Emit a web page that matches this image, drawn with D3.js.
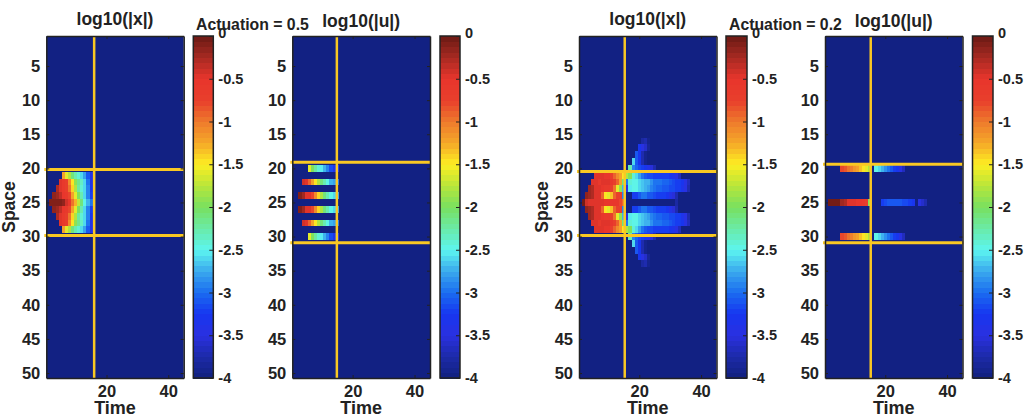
<!DOCTYPE html>
<html>
<head>
<meta charset="utf-8">
<script src="https://cdn.jsdelivr.net/npm/d3@7"></script>
<style>
  html, body { margin: 0; background: #fff; }
  text { font-family: "Liberation Sans", Arial, sans-serif; font-weight: bold; fill: #222; }
</style>
</head>
<body>
<svg id="chart" width="1024" height="420"></svg>
<script>
// each run: [row, first column, log10 values...]
const xHigh = [
  [21, 6, -1.2, -1.6, -1.8, -2.1, -2.3, -2.4, -2.6, -2.8, -3.1, -3.4],
  [22, 5, -0.45, -0.6, -0.7, -1.1, -1.5, -1.9, -2.15, -2.35, -2.6, -3, -3.4],
  [23, 4, -0.3, -0.45, -0.6, -0.7, -1.0, -1.4, -1.8, -2.2, -2.4, -2.6, -2.9, -3.3],
  [24, 3, -0.15, -0.2, -0.35, -0.55, -0.6, -0.8, -1.2, -1.6, -2.0, -2.3, -2.6, -2.9, -3.2],
  [25, 2, -0.1, -0.1, -0.1, -0.12, -0.15, -0.4, -0.55, -1.0, -1.3, -1.7, -2.1, -2.5, -2.7, -3.0],
  [26, 3, -0.15, -0.2, -0.35, -0.55, -0.6, -0.8, -1.2, -1.6, -2.0, -2.3, -2.6, -2.9, -3.2],
  [27, 4, -0.3, -0.45, -0.6, -0.7, -1.0, -1.4, -1.8, -2.2, -2.4, -2.6, -2.9, -3.3],
  [28, 5, -0.45, -0.6, -0.7, -1.1, -1.5, -1.9, -2.15, -2.35, -2.6, -3, -3.4],
  [29, 6, -1.2, -1.6, -1.8, -2.1, -2.3, -2.4, -2.6, -2.8, -3.1, -3.4],
];
const uHigh = [
  [20, 6, -1.6, -2.0, -2.2, -2.4, -2.55, -2.7, -2.9, -3.15, -3.35, -3.4],
  [22, 4, -0.4, -0.5, -0.9, -1.2, -1.5, -1.8, -2.1, -2.3, -2.5, -2.7, -2.8, -3.0],
  [24, 3, -0.1, -0.2, -0.45, -0.5, -0.8, -1.1, -1.4, -1.8, -2.1, -2.3, -2.45, -2.6, -2.8],
  [26, 3, -0.1, -0.2, -0.45, -0.5, -0.8, -1.1, -1.4, -1.8, -2.1, -2.3, -2.45, -2.6, -2.8],
  [28, 4, -0.4, -0.5, -0.9, -1.2, -1.5, -1.8, -2.1, -2.3, -2.5, -2.7, -2.8, -3.0],
  [30, 6, -1.6, -2.0, -2.2, -2.4, -2.55, -2.7, -2.9, -3.15, -3.35, -3.4],
];
const xLow = [
  [16, 21, -3.8, -3.7, -3.9],
  [17, 20, -3.3, -3.5, -3.6, -3.85],
  [18, 19, -3.1, -3.3, -3.7, -3.9],
  [19, 18, -2.6, -3.1, -3.3, -3.7, -3.9],
  [20, 17, -2.3, -2.9, -3.05, -3.15, -3.25, -3.3, -3.4, -3.55, -3.7],
  [21, 6, -0.5, -0.5, -0.5, -0.55, -0.55, -0.75, -0.9, -1.1, -1.25, -1.5, -1.8, -2.0, -2.4, -2.6, -2.8, -3.0, -3.1, -3.15, -3.15, -3.2, -3.2, -3.2, -3.25, -3.25, -3.3, -3.35, -3.45, -3.65],
  [22, 5, -0.45, -0.45, -0.6, -0.45, -0.5, -0.5, -0.55, -0.75, -0.9, -1.2, -2.1, -3.0, -2.4, -2.45, -2.5, -2.6, -2.65, -2.7, -2.75, -2.85, -2.95, -3.0, -3.0, -3.05, -3.05, -3.1, -3.15, -3.2, -3.25, -3.3, -3.45, -3.65],
  [23, 4, -0.25, -0.3, -0.45, -0.5, -0.55, -0.6, -0.6, -0.7, -1.0, -1.6, -1.9, -2.7, -3.5, -2.55, -2.45, -2.5, -2.6, -2.65, -2.7, -2.8, -2.9, -3.0, -3.05, -3.05, -3.1, -3.1, -3.15, -3.15, -3.2, -3.25, -3.35, -3.5, -3.7],
  [24, 3, -0.15, -0.2, -0.3, -0.45, -0.45, -0.9, -1.45, -1.6, -1.35, -0.9, -0.7, -0.7, -2.9],
  [24, 18, -3.2, -3.2, -3.1, -3.0, -3.0, -3.1, -3.1, -3.15, -3.2, -3.2, -3.25, -3.3, -3.4, -3.55, -3.7],
  [25, 2, -0.05, -0.4, -0.45, -0.5, -0.5, -0.5, -0.5, -0.55, -0.55, -0.55, -0.55, -0.55, -0.8, -0.9],
  [25, 32, -3.8],
  [26, 3, -0.15, -0.2, -0.3, -0.45, -0.45, -0.9, -1.45, -1.6, -1.35, -0.9, -0.7, -0.7, -2.9],
  [26, 18, -3.2, -3.2, -3.1, -3.0, -3.0, -3.1, -3.1, -3.15, -3.2, -3.2, -3.25, -3.3, -3.4, -3.55, -3.7],
  [27, 4, -0.25, -0.3, -0.45, -0.5, -0.55, -0.6, -0.6, -0.7, -1.0, -1.6, -1.9, -2.7, -3.5, -2.55, -2.45, -2.5, -2.6, -2.65, -2.7, -2.8, -2.9, -3.0, -3.05, -3.05, -3.1, -3.1, -3.15, -3.15, -3.2, -3.25, -3.35, -3.5, -3.7],
  [28, 5, -0.45, -0.45, -0.6, -0.45, -0.5, -0.5, -0.55, -0.75, -0.9, -1.2, -2.1, -3.0, -2.4, -2.45, -2.5, -2.6, -2.65, -2.7, -2.75, -2.85, -2.95, -3.0, -3.0, -3.05, -3.05, -3.1, -3.15, -3.2, -3.25, -3.3, -3.45, -3.65],
  [29, 6, -0.5, -0.5, -0.5, -0.55, -0.55, -0.75, -0.9, -1.1, -1.25, -1.5, -1.8, -2.0, -2.4, -2.6, -2.8, -3.0, -3.1, -3.15, -3.15, -3.2, -3.2, -3.2, -3.25, -3.25, -3.3, -3.35, -3.45, -3.65],
  [30, 17, -2.3, -2.9, -3.05, -3.15, -3.25, -3.3, -3.4, -3.55, -3.7],
  [31, 18, -2.6, -3.1, -3.3, -3.7, -3.9],
  [32, 19, -3.1, -3.3, -3.7, -3.9],
  [33, 20, -3.3, -3.5, -3.6, -3.85],
  [34, 21, -3.8, -3.7, -3.9],
];
const uLow = [
  [20, 6, -0.8, -0.85, -0.95, -1.05, -1.15, -1.25, -1.35, -1.45, -1.6, -1.8],
  [20, 17, -2.5, -2.6, -2.75, -2.85, -3, -3.1, -3.2, -3.3, -3.45, -3.65],
  [25, 2, -0.05, -0.05, -0.05, -0.05, -0.2, -0.3, -0.5, -0.5, -0.5, -0.55, -0.55, -0.6, -0.7, -2.0],
  [25, 19, -3.2, -3.15, -3.1, -3.1, -3.1, -3.1, -3.1, -3.15, -3.15, -3.2, -3.3],
  [25, 31, -3.5, -3.6, -3.7],
  [30, 6, -0.8, -0.85, -0.95, -1.05, -1.15, -1.25, -1.35, -1.45, -1.6, -1.8],
  [30, 17, -2.5, -2.6, -2.75, -2.85, -3, -3.1, -3.2, -3.3, -3.45, -3.65],
];

const timeTicks = [20, 40];
const spaceTicks = [5, 10, 15, 20, 25, 30, 35, 40, 45, 50];
const colorTicks = [0, -0.5, -1, -1.5, -2, -2.5, -3, -3.5, -4];

const stopValues = [-4, -3.75, -3.5, -3.25, -3, -2.75, -2.5, -2, -1.75, -1.5, -1.25, -1, -0.75, -0.5, -0.25, 0];
const stopColors = ["#10207e", "#1c2aa8", "#2a30e0", "#1636f0", "#1a6cf0", "#3aa8ee", "#5cf5f0", "#78e060", "#b8e63a", "#fdee22", "#f5a828", "#ee7a2c", "#e83f2c", "#e8352c", "#a82a22", "#6b1a14"];

const svg = d3.select("#chart");
const plotTop = 36, plotBottom = 378;
const frame = "#222";

const ramp = d3.scaleLinear().domain(stopValues).range(stopColors);
const levels = 64;
const level = (v) => Math.min(levels - 1, Math.floor((v + 4) / 4 * levels));
const color = (v) => ramp(-4 + (level(v) + 0.5) / levels * 4);

function panel(left, right, runs, vLine, hLines, title, titleY, showSpace) {
  const x = d3.scaleLinear().domain([0.5, 45]).range([left, right]);
  const y = d3.scaleLinear().domain([0.6, 50.73]).range([plotTop, plotBottom]);
  const g = svg.append("g");

  g.append("rect")
    .attr("x", left).attr("y", plotTop)
    .attr("width", right - left).attr("height", plotBottom - plotTop)
    .attr("fill", color(-4));

  const cells = runs.flatMap(([row, col, ...vals]) =>
    vals.map((v, i) => ({ row, col: col + i, v })));
  g.append("g").attr("shape-rendering", "crispEdges")
    .selectAll("rect").data(cells).join("rect")
    .attr("x", (d) => x(d.col - 0.5))
    .attr("y", (d) => y(d.row - 0.5))
    .attr("width", x(1) - x(0))
    .attr("height", y(1) - y(0))
    .attr("fill", (d) => color(d.v));

  // threshold lines
  g.append("line")
    .attr("x1", x(vLine)).attr("x2", x(vLine))
    .attr("y1", plotTop).attr("y2", plotBottom)
    .attr("stroke", "#f9c823").attr("stroke-width", 2.5);
  g.selectAll(".hline").data(hLines).join("line")
    .attr("class", "hline")
    .attr("x1", left - 2).attr("x2", right + 1)
    .attr("y1", (d) => y(d)).attr("y2", (d) => y(d))
    .attr("stroke", "#f9c823").attr("stroke-width", 3);

  const xAxis = g.append("g").attr("transform", `translate(0,${plotBottom})`)
    .call(d3.axisBottom(x).tickValues(timeTicks).tickSizeInner(-3).tickSizeOuter(0).tickPadding(7));
  const yAxis = g.append("g").attr("transform", `translate(${left},0)`)
    .call(d3.axisLeft(y).tickValues(spaceTicks).tickSizeInner(-3).tickSizeOuter(0).tickPadding(6));
  const xTop = g.append("g").attr("transform", `translate(0,${plotTop})`)
    .call(d3.axisTop(x).tickValues(timeTicks).tickSizeInner(-3).tickSizeOuter(0).tickFormat(""));
  const yRight = g.append("g").attr("transform", `translate(${right},0)`)
    .call(d3.axisRight(y).tickValues(spaceTicks).tickSizeInner(-3).tickSizeOuter(0).tickFormat(""));
  [xAxis, yAxis, xTop, yRight].forEach((a) => {
    a.selectAll("line").attr("stroke", frame);
    a.select(".domain").attr("stroke", frame).attr("stroke-width", 1.5);
    a.selectAll("text").attr("font-size", 16.5).attr("font-family", null);
  });

  const mid = (left + right) / 2;
  g.append("text").attr("x", mid).attr("y", titleY)
    .attr("text-anchor", "middle").attr("font-size", 17.5).text(title);
  g.append("text").attr("x", mid).attr("y", 414)
    .attr("text-anchor", "middle").attr("font-size", 18).text("Time");
  if (showSpace) {
    g.append("text")
      .attr("transform", `translate(${left - 31},207) rotate(-90)`)
      .attr("text-anchor", "middle").attr("font-size", 17.5).text("Space");
  }
}

function colorbar(left, right) {
  const scale = d3.scaleLinear().domain([-4, 0]).range([plotBottom, plotTop]);
  const g = svg.append("g");
  g.append("g").attr("shape-rendering", "crispEdges")
    .selectAll("rect").data(d3.range(levels)).join("rect")
    .attr("x", left)
    .attr("y", (d) => scale(-4 + (d + 1) / levels * 4))
    .attr("width", right - left)
    .attr("height", (plotBottom - plotTop) / levels + 0.5)
    .attr("fill", (d) => ramp(-4 + (d + 0.5) / levels * 4));
  g.append("rect")
    .attr("x", left).attr("y", plotTop)
    .attr("width", right - left).attr("height", plotBottom - plotTop)
    .attr("fill", "none").attr("stroke", frame).attr("stroke-width", 1.5);
  const axis = g.append("g").attr("transform", `translate(${right},0)`)
    .call(d3.axisRight(scale).tickValues(colorTicks).tickFormat(String)
      .tickSizeInner(-4).tickSizeOuter(0).tickPadding(5));
  axis.select(".domain").remove();
  axis.selectAll("line").attr("stroke", frame);
  axis.selectAll("text").attr("font-size", 14.5).attr("font-family", null);
  axis.selectAll(".tick").filter((d) => d === 0).select("text").attr("dy", "0.1em");
}

panel(46.3, 183.7, xHigh, 16, [20.15, 29.85], "log10(|x|)", 25, true);
colorbar(193.3, 213.3);
panel(292.3, 430, uHigh, 14.9, [19.1, 30.9], "log10(|u|)", 27, false);
colorbar(440, 460);
panel(579, 716.5, xLow, 15.3, [20.45, 29.85], "log10(|x|)", 25, true);
colorbar(726, 747);
panel(825, 962.5, uLow, 15.3, [19.4, 30.9], "log10(|u|)", 27, false);
colorbar(972.5, 993);

svg.append("text").attr("x", 196).attr("y", 29.5).attr("font-size", 15.8).text("Actuation = 0.5");
svg.append("text").attr("x", 729).attr("y", 29.5).attr("font-size", 15.8).text("Actuation = 0.2");
</script>
</body>
</html>
